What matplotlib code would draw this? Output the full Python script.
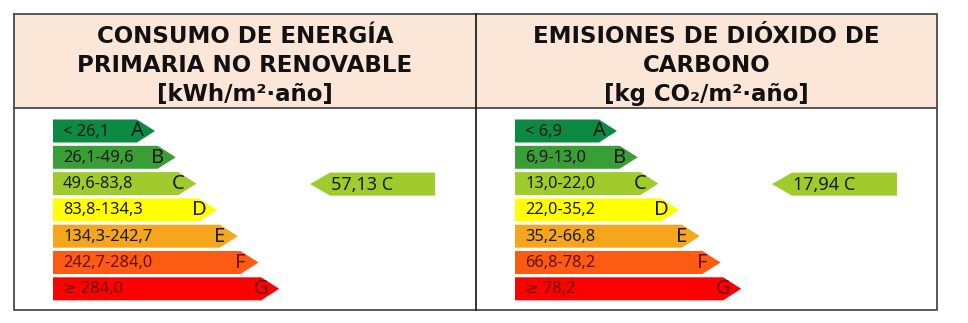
import matplotlib
matplotlib.use("Agg")
import matplotlib.pyplot as plt
from matplotlib.patches import Polygon, Rectangle

# ---- data ----
classes = ["A", "B", "C", "D", "E", "F", "G"]
energy_ranges = ["< 26,1", "26,1-49,6", "49,6-83,8", "83,8-134,3",
                 "134,3-242,7", "242,7-284,0", "≥ 284,0"]
co2_ranges = ["< 6,9", "6,9-13,0", "13,0-22,0", "22,0-35,2",
              "35,2-66,8", "66,8-78,2", "≥ 78,2"]
energy_value = "57,13"
energy_class = "C"
co2_value = "17,94"
co2_class = "C"
energy_title = ["CONSUMO DE ENERGÍA", "PRIMARIA NO RENOVABLE", "[kWh/m²·año]"]
co2_title = ["EMISIONES DE DIÓXIDO DE", "CARBONO", "[kg CO₂/m²·año]"]

colors = ["#0c8a42", "#3a9e36", "#9fcb2c", "#ffff00", "#f6a61c", "#fb5b12", "#fe0000"]
text_colors = ["#1a1a1a"] * 5 + ["#6a0c0c", "#6a0c0c"]

W, H = 968, 323
fig = plt.figure(figsize=(W / 100, H / 100), dpi=100)
ax = fig.add_axes([0, 0, 1, 1])
ax.set_xlim(0, W)
ax.set_ylim(H, 0)
ax.axis("off")

# table frame
left, right, top, hdr, bottom, mid = 14, 937, 14, 108, 310, 476
ax.add_patch(Rectangle((left, top), right - left, hdr - top, facecolor="#fce6d7",
                       edgecolor="none", zorder=0))
lc = "#4a4a4a"
lw = 1.3
ax.plot([left, right, right, left, left], [top, top, bottom, bottom, top], color=lc, lw=lw)
ax.plot([left, right], [hdr, hdr], color=lc, lw=lw)
ax.plot([mid, mid], [top, bottom], color="#222222", lw=lw)

font_lbl = ["Noto Sans", "DejaVu Sans"]

def panel(xoff, ranges, value, vclass, title, cx):
    for line, yb in zip(title, [43, 72, 100.5]):
        ax.text(cx, yb, line, ha="center", va="baseline", fontsize=16.5,
                fontweight="bold", family="DejaVu Sans", color="#111111")
    x0 = 53 + xoff
    row_h = 26.3
    bh = 23
    for i, (c, r) in enumerate(zip(classes, ranges)):
        yt = 119.5 + i * row_h
        yb = yt + bh
        ym = (yt + yb) / 2
        re = 137 + xoff + i * 20.7
        tip = re + 18
        ax.add_patch(Polygon([(x0, yt), (re, yt), (tip, ym), (re, yb), (x0, yb)],
                             closed=True, facecolor=colors[i], edgecolor="none"))
        ax.text(x0 + 10, ym + 0.5, r, ha="left", va="center", fontsize=11.8,
                family=font_lbl, color=text_colors[i])
        ax.text(re, ym + 0.5, c, ha="center", va="center", fontsize=14.5,
                family=font_lbl, color=text_colors[i])
    k = classes.index(vclass)
    yt = 119.5 + k * row_h + 0.5
    yb = yt + bh
    ym = (yt + yb) / 2
    tip = 310 + xoff
    bs = tip + 20
    be = 435 + xoff
    ax.add_patch(Polygon([(tip, ym), (bs, yt), (be, yt), (be, yb), (bs, yb)],
                         closed=True, facecolor=colors[k], edgecolor="none"))
    ax.text(bs + 1, ym + 0.5, f"{value} {vclass}", ha="left", va="center",
            fontsize=13, family=font_lbl, color="#1a1a1a")

panel(0, energy_ranges, energy_value, energy_class, energy_title, (left + mid) / 2)
panel(462, co2_ranges, co2_value, co2_class, co2_title, (mid + right) / 2)

fig.savefig("out.png", dpi=100)
